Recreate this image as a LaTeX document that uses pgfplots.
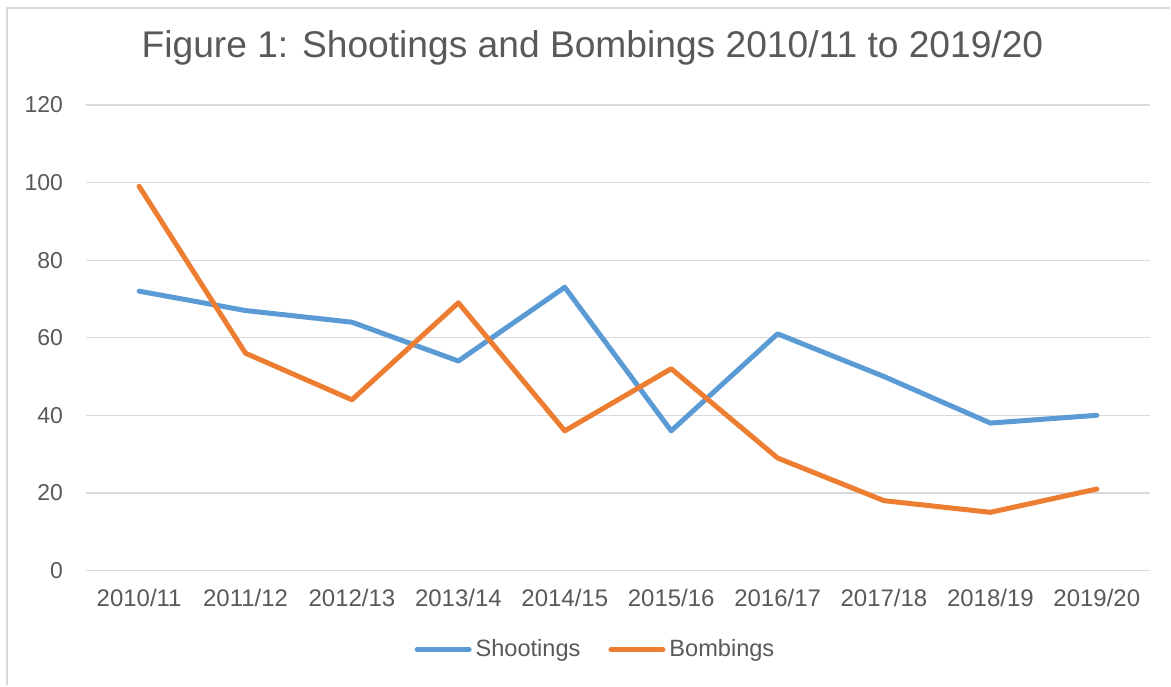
\documentclass[border=0pt]{standalone}
\usepackage{pgfplots}
\pgfplotsset{compat=1.18}
\usepackage{fontspec}
\setmainfont{Liberation Sans}
\definecolor{shoot}{HTML}{5B9BD5}
\definecolor{bomb}{HTML}{ED7D31}
\definecolor{txt}{HTML}{595959}
\definecolor{grd}{HTML}{D9D9D9}
\begin{document}
\begin{tikzpicture}
\path (0pt,0pt) rectangle (585.5pt,343pt);
\draw[grd, line width=1pt] (3.75pt,0pt) -- (3.75pt,338.75pt) -- (585.5pt,338.75pt);
\node[text=txt, font=\fontsize{18.6}{20}\selectfont, anchor=center] at (296.5pt,319pt) {Figure 1: Shootings and Bombings 2010/11 to 2019/20};
\begin{axis}[
  scale only axis,
  width=532.5pt, height=233pt,
  at={(43pt,57.5pt)}, anchor=south west,
  xmin=-0.5, xmax=9.5, ymin=0, ymax=120,
  xtick={0,...,9},
  xticklabels={2010/11,2011/12,2012/13,2013/14,2014/15,2015/16,2016/17,2017/18,2018/19,2019/20},
  ytick={0,20,...,120},
  ymajorgrids, grid style={grd, line width=0.6pt},
  axis line style={draw=none},
  major tick length=0pt,
  tick label style={text=txt},
  xticklabel style={font=\fontsize{12}{13}\selectfont, yshift=-6pt},
  yticklabel style={font=\fontsize{11.5}{12}\selectfont, xshift=-8pt},
  /pgf/number format/assume math mode=true,
  legend style={at={(0.4798,-0.1695)}, anchor=center, draw=none, fill=none,
    font=\fontsize{11.8}{12}\selectfont, text=txt, legend columns=2,
    /tikz/every even column/.append style={column sep=12pt}},
  legend image code/.code={\draw[#1, line width=2.5pt, line cap=round] (0pt,0pt) -- (26pt,0pt);},
]
\addplot[shoot, line width=2.5pt, line join=round, line cap=round] coordinates {
(0,72) (1,67) (2,64) (3,54) (4,73) (5,36) (6,61) (7,50) (8,38) (9,40)};
\addlegendentry{Shootings}
\addplot[bomb, line width=2.5pt, line join=round, line cap=round] coordinates {
(0,99) (1,56) (2,44) (3,69) (4,36) (5,52) (6,29) (7,18) (8,15) (9,21)};
\addlegendentry{Bombings}
\end{axis}
\end{tikzpicture}
\end{document}
